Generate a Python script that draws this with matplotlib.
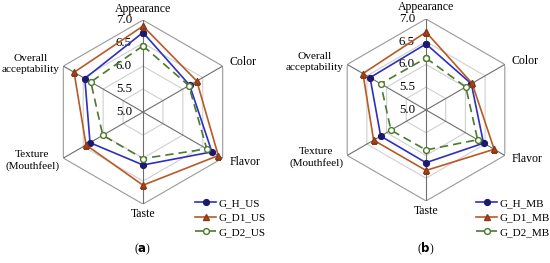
import numpy as np
import matplotlib.pyplot as plt

plt.rcParams['font.family'] = ['Liberation Serif', 'DejaVu Serif']

categories = ["Appearance", "Color", "Flavor", "Taste", "Texture\n(Mouthfeel)", "Overall\nacceptability"]
ticks = [5.0, 5.5, 6.0, 6.5, 7.0]

# panel (a): US
h_us = [6.73, 6.17, 6.73, 6.15, 6.33, 6.46]
d1_us = [6.87, 6.35, 6.89, 6.59, 6.43, 6.73]
d2_us = [6.44, 6.15, 6.60, 6.01, 6.01, 6.31]

# panel (b): MB
h_mb = [6.45, 6.15, 6.46, 6.16, 6.15, 6.42]
d1_mb = [6.71, 6.17, 6.73, 6.33, 6.33, 6.60]
d2_mb = [6.14, 6.01, 6.31, 5.88, 5.89, 6.15]

angles = np.linspace(0, 2 * np.pi, len(categories), endpoint=False)
closed = np.append(angles, angles[0])

# label placement: (ha, va, radius, size)
label_pos = [("center", "bottom", 7.12, 8.5), ("left", "center", 7.17, 8.5), ("left", "center", 7.17, 8.5),
             ("center", "top", 7.08, 8.5), ("right", "center", 7.1, 8.1), ("right", "center", 7.1, 8.1)]


def radar(ax, series):
    ax.set_theta_offset(np.pi / 2)
    ax.set_theta_direction(-1)
    ax.set_ylim(5.0, 7.0)
    ax.grid(False)
    ax.spines["polar"].set_visible(False)
    ax.set_xticks([])
    ax.set_yticks([])
    for t in ticks[1:]:
        col = "#999999" if t == ticks[-1] else "#d0d0d0"
        ax.plot(closed, [t] * len(closed), color=col, lw=0.8, zorder=1)
    for a in angles:
        ax.plot([a, a], [5.0, 7.0], color="#6e6e6e", lw=0.8, zorder=1)
    for t in ticks:
        ax.annotate(f"{t:.1f}", (0, t), xytext=(-8, 0), textcoords="offset points",
                    ha="right", va="center", fontsize=9.3)
    for a, name, (ha, va, r, fs) in zip(angles, categories, label_pos):
        ax.text(a, r, name, ha=ha, va=va, fontsize=fs, linespacing=1.3,
                multialignment="center")
    styles = [
        dict(color="#2f2fbf", marker="o", mfc="#1a1a6e", mec="#1a1a6e", ls="-"),
        dict(color="#b85a26", marker="^", mfc="#b5401f", mec="#8a3a14", ls="-"),
        dict(color="#4a7a2c", marker="o", mfc="white", mec="#4a7a2c", ls=(0, (5, 3))),
    ]
    for (name, vals), st in zip(series, styles):
        v = np.append(vals, vals[0])
        ax.plot(closed, v, lw=1.2, ms=4.2, label=name, zorder=3, **st)


fig = plt.figure(figsize=(5.5, 2.63), dpi=100)
ax1 = fig.add_axes([51 / 550, 0.224, 184 / 550, 184 / 263], projection="polar")
ax2 = fig.add_axes([335 / 550, 0.236, 182 / 550, 182 / 263], projection="polar")

radar(ax1, [("G_H_US", h_us), ("G_D1_US", d1_us), ("G_D2_US", d2_us)])
radar(ax2, [("G_H_MB", h_mb), ("G_D1_MB", d1_mb), ("G_D2_MB", d2_mb)])

for ax, x in [(ax1, 195 / 550), (ax2, 476 / 550)]:
    ax.legend(loc="upper left", bbox_to_anchor=(x, 1 - 198 / 263), bbox_transform=fig.transFigure,
              frameon=False, fontsize=8, handlelength=1.9, handletextpad=0.2,
              labelspacing=0.45, borderpad=0, borderaxespad=0)

fig.text(143 / 550, 1 - 249 / 263, r"($\mathbf{a}$)", ha="center", va="center", fontsize=8.5)
fig.text(426 / 550, 1 - 249 / 263, r"($\mathbf{b}$)", ha="center", va="center", fontsize=8.5)

fig.savefig("out.png", dpi=100)
